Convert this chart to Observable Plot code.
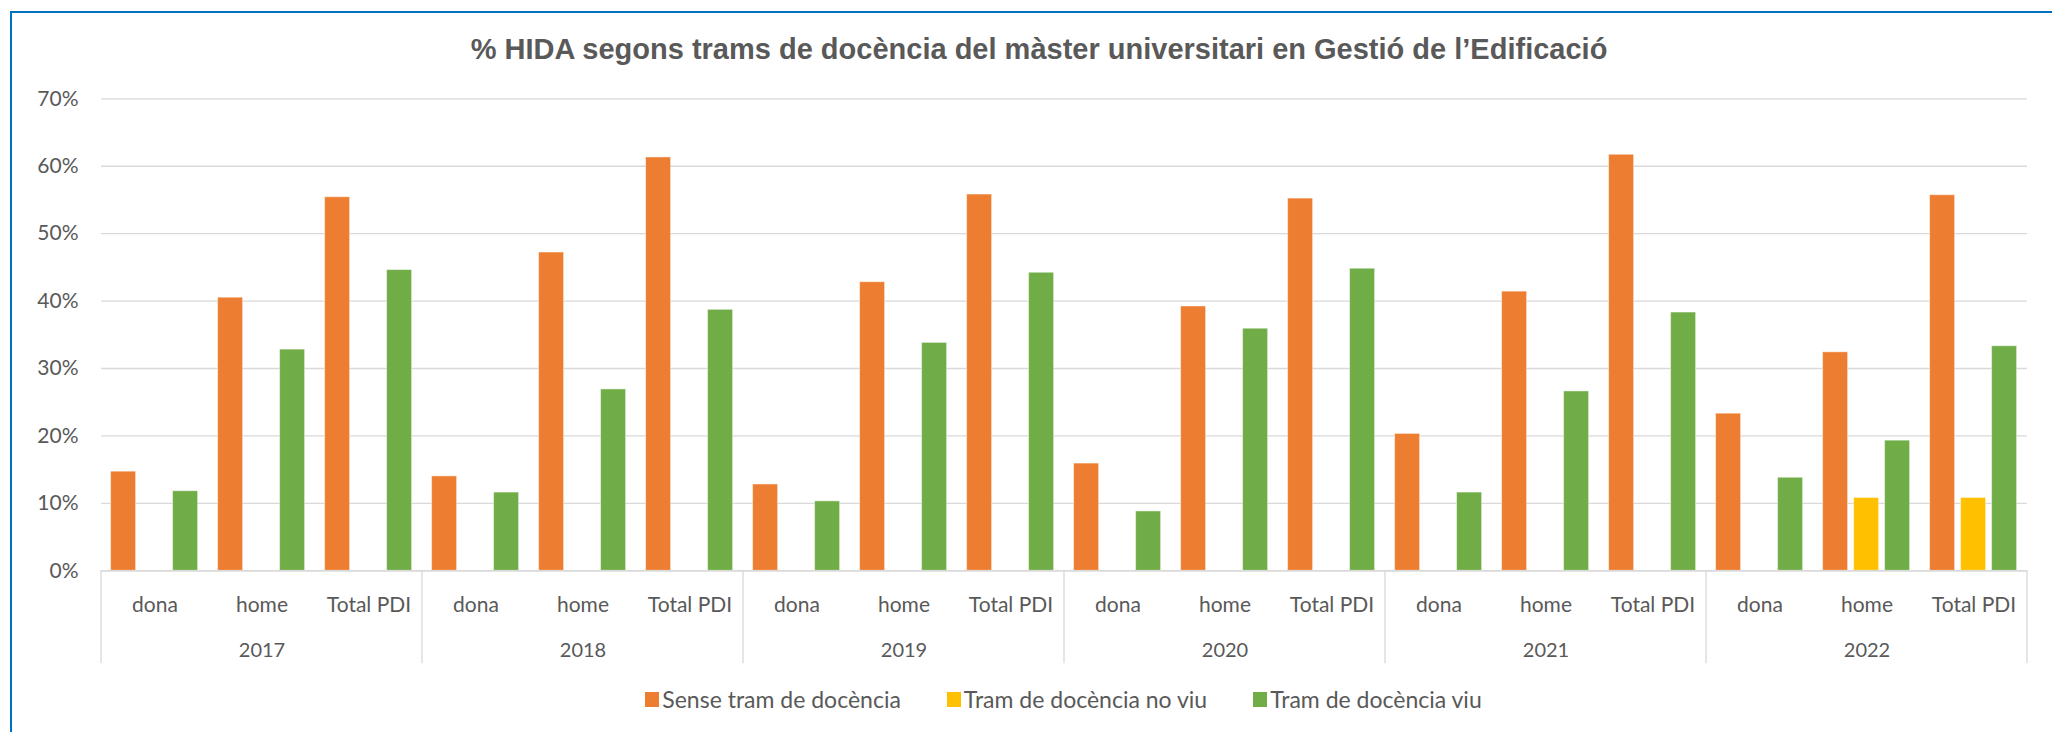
<!DOCTYPE html>
<html>
<head>
<meta charset="utf-8">
<script src="https://cdn.jsdelivr.net/npm/d3@7"></script>
<script src="https://cdn.jsdelivr.net/npm/@observablehq/plot@0.6"></script>
<style>
  html, body { margin: 0; padding: 0; background: #fff; }
  #wrap { position: relative; width: 2052px; height: 732px; overflow: hidden; background: #fff; }
  #border { position: absolute; left: 10px; top: 11px; width: 2200px; height: 900px; border: 2px solid #0070C0; box-sizing: border-box; }
  #title { position: absolute; left: 0; top: 32px; width: 2078px; text-align: center;
           font-family: "Liberation Sans", Arial, sans-serif; font-weight: bold; font-size: 29px; line-height: 34px; color: #595959; white-space: nowrap; }
  #chart { position: absolute; left: 0; top: 70px; }
  #legend { position: absolute; left: 92px; width: 1943px; top: 672px; height: 54px; display: flex; justify-content: center; align-items: center;
            font-family: Lato, "Noto Sans", sans-serif; font-size: 23px; color: #595959; }
  .item { display: flex; align-items: center; margin: 0 23px; white-space: nowrap; }
  .sw { width: 14px; height: 15px; margin-right: 3px; }
</style>
</head>
<body>
<div id="wrap">
  <div id="border"></div>
  <div id="title"></div>
  <div id="chart"></div>
  <div id="legend"></div>
</div>
<script>
const titleText = "% HIDA segons trams de docència del màster universitari en Gestió de l’Edificació";
const years = ["2017", "2018", "2019", "2020", "2021", "2022"];
const categories = ["dona", "home", "Total PDI"];
const series = ["Sense tram de docència", "Tram de docència no viu", "Tram de docència viu"];
const seriesColors = ["#ED7D31", "#FFC000", "#70AD47"];
const yTicks = [0, 0.1, 0.2, 0.3, 0.4, 0.5, 0.6, 0.7];

// values in %, ordered year by year: dona, home, Total PDI
const senseTram = [14.7, 40.5, 55.4,  14.0, 47.2, 61.3,  12.8, 42.8, 55.8,  15.9, 39.2, 55.2,  20.3, 41.4, 61.7,  23.3, 32.4, 55.7];
const tramNoViu = [0, 0, 0,  0, 0, 0,  0, 0, 0,  0, 0, 0,  0, 0, 0,  0, 10.8, 10.8];
const tramViu   = [11.8, 32.8, 44.6,  11.6, 26.9, 38.7,  10.3, 33.8, 44.2,  8.8, 35.9, 44.8,  11.6, 26.6, 38.3,  13.8, 19.3, 33.3];

document.getElementById("title").textContent = titleText;

const keys = years.flatMap(y => categories.map(c => y + "|" + c));
const seriesValues = [senseTram, tramNoViu, tramViu];
const rows = [];
keys.forEach((k, i) => {
  series.forEach((s, j) => {
    rows.push({key: k, series: s, value: seriesValues[j][i] / 100});
  });
});

const plot = Plot.plot({
  width: 2052,
  height: 602,
  marginTop: 28.3,
  marginBottom: 101.7,
  marginLeft: 92.4,
  marginRight: 17,
  style: {fontFamily: "Lato, 'Noto Sans', sans-serif", color: "#595959", background: "transparent", overflow: "visible"},
  fx: {domain: keys, padding: 0, axis: null, label: null},
  x: {domain: series, paddingInner: 0.196, paddingOuter: 0.30, axis: null},
  y: {domain: [0, 0.7], axis: null},
  color: {domain: series, range: seriesColors},
  marks: [
    Plot.gridY(yTicks, {stroke: "#D9D9D9", strokeOpacity: 1, strokeWidth: 1.3}),
    Plot.axisY(yTicks, {tickFormat: d => Math.round(d * 100) + "%", tickSize: 0, tickPadding: 23, fontSize: 21, fill: "#595959", label: null}),
    Plot.barY(rows, {fx: "key", x: "series", y: "value", fill: "series", stroke: "#fff", strokeOpacity: 0.45, strokeWidth: 1}),
    Plot.ruleY([0], {stroke: "#D9D9D9", strokeWidth: 1.6}),
    Plot.axisFx({anchor: "bottom", tickSize: 0, tickPadding: 26, fontSize: 21, fill: "#595959", label: null, tickFormat: k => k.split("|")[1]}),
    Plot.text(years, {fx: d => d + "|home", text: d => d, frameAnchor: "bottom", lineAnchor: "bottom", dy: 86, fontSize: 20, fill: "#595959"})
  ]
});
document.getElementById("chart").appendChild(plot);

// year separators drawn from Plot's own fx and y scales
const fxS = plot.scale("fx");
const yS = plot.scale("y");
const y0 = yS.apply(0);
const sepX = years.map(y => fxS.apply(y + "|dona"));
sepX.push(fxS.apply(keys[keys.length - 1]) + fxS.bandwidth);
const svg = d3.select(plot.tagName.toLowerCase() === "svg" ? plot : plot.querySelector("svg"));
svg.append("g").selectAll("line").data(sepX).join("line")
  .attr("x1", d => d).attr("x2", d => d)
  .attr("y1", y0).attr("y2", y0 + 93)
  .attr("stroke", "#D9D9D9").attr("stroke-width", 1.3);

// legend
const legend = d3.select("#legend");
series.forEach((s, i) => {
  const it = legend.append("div").attr("class", "item");
  it.append("div").attr("class", "sw").style("background", seriesColors[i]);
  it.append("span").text(s);
});
</script>
</body>
</html>
